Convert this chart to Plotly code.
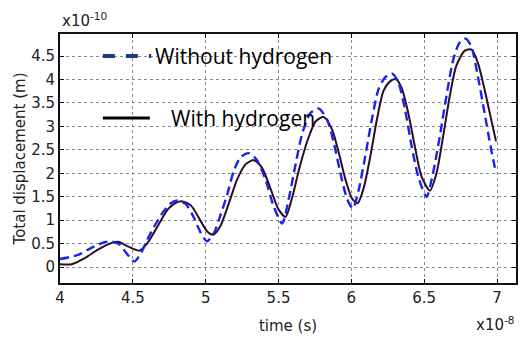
import plotly.graph_objects as go

# time in units of 1e-8 s, displacement in units of 1e-10 m
t_without = [4.000, 4.125, 4.216, 4.307, 4.350, 4.410, 4.455, 4.510, 4.557, 4.600, 4.648, 4.705, 4.760,
             4.807, 4.864, 4.920, 4.966, 5.010, 5.057, 5.100, 5.148, 5.193, 5.239, 5.295, 5.350, 5.410,
             5.466, 5.525, 5.573, 5.618, 5.664, 5.720, 5.777, 5.834, 5.880, 5.925, 5.970, 6.010, 6.050,
             6.095, 6.140, 6.186, 6.230, 6.277, 6.320, 6.368, 6.414, 6.459, 6.516, 6.560, 6.607, 6.652,
             6.700, 6.743, 6.784, 6.823, 6.868, 6.914, 6.960, 6.993]
d_without = [0.17, 0.26, 0.41, 0.53, 0.55, 0.48, 0.30, 0.12, 0.30, 0.59, 0.87, 1.16, 1.36,
             1.42, 1.34, 1.05, 0.73, 0.55, 0.73, 1.09, 1.55, 2.05, 2.34, 2.43, 2.29, 1.87,
             1.30, 0.93, 1.50, 2.21, 2.86, 3.29, 3.38, 3.14, 2.64, 2.00, 1.46, 1.25, 1.64,
             2.36, 3.14, 3.79, 4.04, 4.13, 3.96, 3.36, 2.57, 1.93, 1.50, 2.00, 2.79, 3.64,
             4.43, 4.79, 4.87, 4.71, 4.07, 3.29, 2.50, 2.00]

t_with = [4.000, 4.080, 4.170, 4.260, 4.350, 4.400, 4.466, 4.545, 4.600, 4.670, 4.740, 4.795, 4.840,
          4.900, 4.966, 5.010, 5.052, 5.100, 5.160, 5.216, 5.273, 5.330, 5.386, 5.443, 5.500, 5.548,
          5.595, 5.640, 5.700, 5.755, 5.810, 5.868, 5.914, 5.960, 6.005, 6.043, 6.084, 6.130, 6.175,
          6.220, 6.266, 6.305, 6.345, 6.390, 6.436, 6.482, 6.539, 6.584, 6.630, 6.675, 6.720, 6.777,
          6.823, 6.868, 6.914, 6.960, 6.993]
d_with = [0.06, 0.06, 0.19, 0.37, 0.51, 0.54, 0.44, 0.35, 0.51, 0.87, 1.23, 1.37, 1.40,
          1.31, 0.98, 0.76, 0.69, 0.87, 1.37, 1.87, 2.19, 2.28, 2.12, 1.69, 1.23, 1.07,
          1.50, 2.07, 2.71, 3.11, 3.20, 2.93, 2.43, 1.86, 1.46, 1.36, 1.68, 2.36, 3.14,
          3.75, 3.96, 4.01, 3.82, 3.29, 2.57, 1.93, 1.63, 2.00, 2.79, 3.64, 4.29, 4.61,
          4.64, 4.36, 3.79, 3.14, 2.68]

x_ticks = [4, 4.5, 5, 5.5, 6, 6.5, 7]
x_labels = ["4", "4.5", "5", "5.5", "6", "6.5", "7"]
y_ticks = [0, 0.5, 1, 1.5, 2, 2.5, 3, 3.5, 4, 4.5]
y_labels = ["0", "0.5", "1", "1.5", "2", "2.5", "3", "3.5", "4", "4.5"]

series_names = ["Without hydrogen", "With hydrogen"]

fig = go.Figure()
fig.add_trace(go.Scatter(x=t_with, y=d_with, mode="lines", name=series_names[1],
                         line=dict(color="#2b0d26", width=2, shape="spline", smoothing=0.7),
                         showlegend=False))
fig.add_trace(go.Scatter(x=t_without, y=d_without, mode="lines", name=series_names[0],
                         line=dict(color="#1a22ee", width=2.4, dash="9px,5px", shape="spline", smoothing=0.7),
                         showlegend=False))

tickfont = dict(family="DejaVu Sans", size=15, color="#222")
axis_common = dict(showgrid=True, gridcolor="#8a8a8a", griddash="dot", gridwidth=1,
                   showline=True, linecolor="#111", linewidth=2, mirror="ticks",
                   ticks="inside", ticklen=4, tickcolor="#111", tickfont=tickfont, zeroline=False)

fig.update_xaxes(range=[4, 7.13], tickvals=x_ticks, ticktext=x_labels,
                 title=dict(text="time (s)", font=dict(family="DejaVu Sans", size=15, color="#222"), standoff=14),
                 **axis_common)
fig.update_yaxes(range=[-0.34, 4.97], tickvals=y_ticks, ticktext=y_labels,
                 title=dict(text="Total displacement (m)", font=dict(family="DejaVu Sans", size=15, color="#222"), standoff=2),
                 **axis_common)

# legend keys drawn as decorations inside the plot
fig.add_shape(type="line", xref="paper", yref="paper", x0=0.094, x1=0.2, y0=0.912, y1=0.912,
              line=dict(color="#1c3a86", width=4, dash="12px,11px"))
fig.add_shape(type="line", xref="paper", yref="paper", x0=0.094, x1=0.197, y0=0.663, y1=0.663,
              line=dict(color="#000", width=3))
legfont = dict(family="Open Sans", size=21, color="#000")
fig.add_annotation(xref="paper", yref="paper", x=0.203, y=0.912, text=series_names[0], showarrow=False,
                   xanchor="left", yanchor="middle", font=legfont)
fig.add_annotation(xref="paper", yref="paper", x=0.240, y=0.663, text=series_names[1], showarrow=False,
                   xanchor="left", yanchor="middle", font=legfont)

# axis multipliers
fig.add_annotation(xref="paper", yref="paper", x=0.0, y=1.0, yshift=2, text="x10<sup>-10</sup>", showarrow=False,
                   xanchor="left", yanchor="bottom", font=dict(family="DejaVu Sans", size=15, color="#222"))
fig.add_annotation(xref="paper", yref="paper", x=1.0, y=0, yshift=-29, text="x10<sup>-8</sup>", showarrow=False,
                   xanchor="right", yanchor="top", font=dict(family="DejaVu Sans", size=15, color="#222"))

fig.update_layout(width=521, height=339, margin=dict(l=60, r=3, t=34, b=56),
                  plot_bgcolor="white", paper_bgcolor="white", showlegend=False)

fig.write_html("out.html")
